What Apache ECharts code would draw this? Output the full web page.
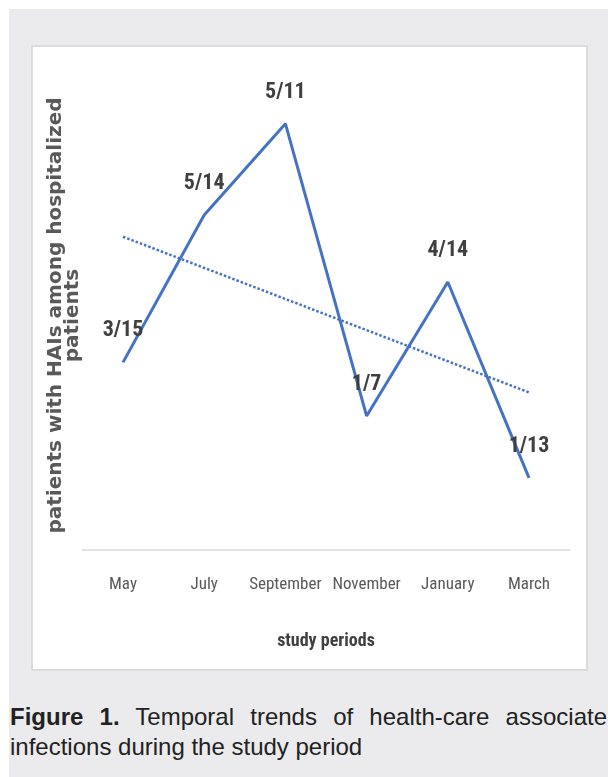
<!DOCTYPE html>
<html>
<head>
<meta charset="utf-8">
<script src="https://cdn.jsdelivr.net/npm/echarts@6/dist/echarts.min.js"></script>
<style>
  html, body { margin: 0; padding: 0; background: #ffffff; }
  #page { position: relative; width: 608px; height: 777px; overflow: hidden; background: #ffffff; }
  #grayBg { position: absolute; left: 9px; top: 9px; width: 599px; height: 768px; background: #ebebed; }
  #panel { position: absolute; left: 31px; top: 45px; width: 553px; height: 622px; background: #ffffff; border: 2px solid #dcdcdc; }
  #chart { position: absolute; left: 0; top: 0; width: 608px; height: 690px; }
  #caption { position: absolute; left: 10px; top: 702px; width: 597px; font-family: "Liberation Sans", Arial, sans-serif; font-size: 24px; line-height: 30px; color: #222222; text-align: justify; text-align-last: left; }
  #caption b { font-weight: bold; }
</style>
</head>
<body>
<div id="page">
  <div id="grayBg"></div>
  <div id="panel"></div>
  <div id="chart"></div>
  <div id="caption"><b>Figure 1.</b> Temporal trends of health-care associate infections during the study period</div>
</div>
<script>
// ---- data ----
const categories = ['May', 'July', 'September', 'November', 'January', 'March'];
const pointLabels = ['3/15', '5/14', '5/11', '1/7', '4/14', '1/13'];
const rates = [0.2000, 0.3571, 0.4545, 0.1429, 0.2857, 0.0769];
// dotted linear trendline: value at first and last category
const trendStart = 0.334;
const trendEnd = 0.168;

const xAxisTitle = 'study periods';
const yAxisTitle = 'patients with HAIs among hospitalized\npatients';

const chart = echarts.init(document.getElementById('chart'), null, { renderer: 'canvas' });
const narrow = '"Liberation Sans Narrow", "Roboto Condensed", "DejaVu Sans Condensed", sans-serif';

chart.setOption({
  backgroundColor: 'transparent',
  animation: false,
  grid: { left: 82.4, right: 38.4, top: 81, bottom: 140, containLabel: false },
  xAxis: {
    type: 'category',
    data: categories,
    boundaryGap: true,
    axisLine: { show: true, lineStyle: { color: '#d9d9d9', width: 1.5 } },
    axisTick: { show: false },
    splitLine: { show: false },
    axisLabel: { interval: 0, margin: 26, fontFamily: narrow, fontSize: 17, color: '#595959' },
    name: xAxisTitle,
    nameLocation: 'middle',
    nameGap: 82,
    nameTextStyle: { fontFamily: narrow, fontWeight: 'bold', fontSize: 18, color: '#404040' }
  },
  yAxis: {
    type: 'value',
    min: 0,
    max: 0.5,
    axisLine: { show: false },
    axisTick: { show: false },
    axisLabel: { show: false },
    splitLine: { show: false },
    name: yAxisTitle,
    nameLocation: 'middle',
    nameGap: 1,
    nameTextStyle: { fontFamily: '"DejaVu Sans", sans-serif', fontWeight: 'bold', fontSize: 20, lineHeight: 17, color: '#595959' }
  },
  series: [
    {
      type: 'line',
      data: rates,
      symbol: 'circle',
      symbolSize: 1,
      showSymbol: true,
      itemStyle: { color: 'rgba(68,114,196,0)', borderWidth: 0 },
      lineStyle: { color: '#4472C4', width: 3 },
      label: {
        show: true,
        position: 'top',
        distance: 20,
        formatter: p => pointLabels[p.dataIndex],
        fontFamily: narrow,
        fontWeight: 'bold',
        fontSize: 22,
        color: '#404040',
        opacity: 1
      },
      labelLayout: { hideOverlap: false },
      z: 3
    },
    {
      type: 'line',
      data: [[0, trendStart], [categories.length - 1, trendEnd]],
      symbol: 'none',
      silent: true,
      lineStyle: { color: '#4472C4', width: 2.5, type: [2.5, 2] },
      z: 2
    }
  ]
});
</script>
</body>
</html>
